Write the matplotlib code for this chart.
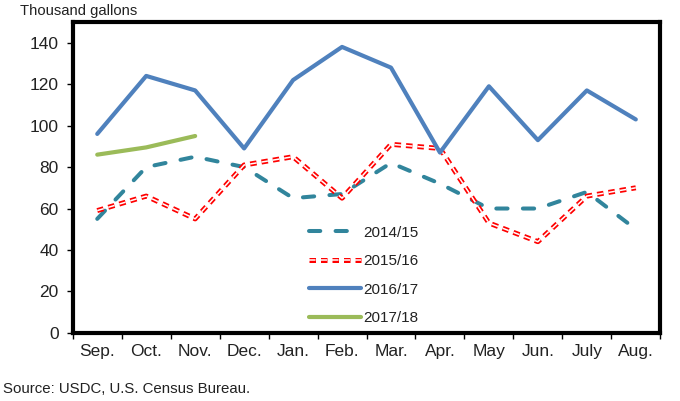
import numpy as np
import matplotlib
matplotlib.use('Agg')
import matplotlib.pyplot as plt
import matplotlib.patheffects as pe

months = ["Sep.", "Oct.", "Nov.", "Dec.", "Jan.", "Feb.", "Mar.", "Apr.", "May", "Jun.", "July", "Aug."]
s1415 = [55, 80, 85, 80, 65, 67, 82, 72, 60, 60, 68, 50]
s1516 = [59, 66, 55, 81, 85, 65, 91, 89, 53, 44, 66, 70]
s1617 = [96, 124, 117, 89, 122, 138, 128, 87, 119, 93, 117, 103]
s1718 = [86, 89.5, 95]
yticks = [0, 20, 40, 60, 80, 100, 120, 140]

plt.rcParams['font.family'] = ['Liberation Sans', 'DejaVu Sans']
txtcol = '#222222'

fig = plt.figure(figsize=(6.8, 4.01), dpi=100)
ax = fig.add_axes([0.107, 0.170, 0.864, 0.775])
x = np.arange(len(months))

ax.plot(x, s1415, color='#31859C', lw=2.9, dashes=(2.8, 3.8), label='2014/15', dash_capstyle='round')
ax.plot(x, s1516, color='#FF0000', lw=3.6, dashes=(1.3, 1.0), label='2015/16',
        path_effects=[pe.Normal(), pe.Stroke(linewidth=1.1, foreground='white')])
ax.plot(x, s1617, color='#4F81BD', lw=3.0, label='2016/17', solid_capstyle='round')
ax.plot(x[:len(s1718)], s1718, color='#9BBB59', lw=3.0, label='2017/18', solid_capstyle='round')

ax.set_xlim(-0.5, 11.5)
ax.set_ylim(0, 150)
ax.set_yticks(yticks)
ax.set_yticklabels([str(v) for v in yticks], fontsize=12.5, color=txtcol)
ax.set_xticks(x)
ax.set_xticklabels(months, fontsize=12.5, color=txtcol)
ax.set_xticks(np.arange(-0.5, 12, 1), minor=True)
ax.tick_params(axis='x', which='major', length=0, pad=8)
ax.tick_params(axis='x', which='minor', length=4, width=1, direction='out')
ax.tick_params(axis='y', length=4, width=1, direction='out', pad=6)
for sp in ax.spines.values():
    sp.set_linewidth(3)
    sp.set_color('black')

leg = ax.legend(loc='lower left', bbox_to_anchor=(0.382, -0.015), frameon=True, fancybox=False,
                edgecolor='none', facecolor='white', framealpha=1, fontsize=11,
                handlelength=3.4, handletextpad=0.15, labelspacing=0.95, borderpad=0.3)
for t in leg.get_texts():
    t.set_color(txtcol)
leg.set_zorder(10)

fig.text(0.029, 0.99, 'Thousand gallons', fontsize=10.7, va='top', ha='left', color=txtcol)
fig.text(0.005, 0.03, 'Source: USDC, U.S. Census Bureau.', fontsize=10.8, va='center', ha='left', color=txtcol)

fig.savefig('out.png', dpi=100)
